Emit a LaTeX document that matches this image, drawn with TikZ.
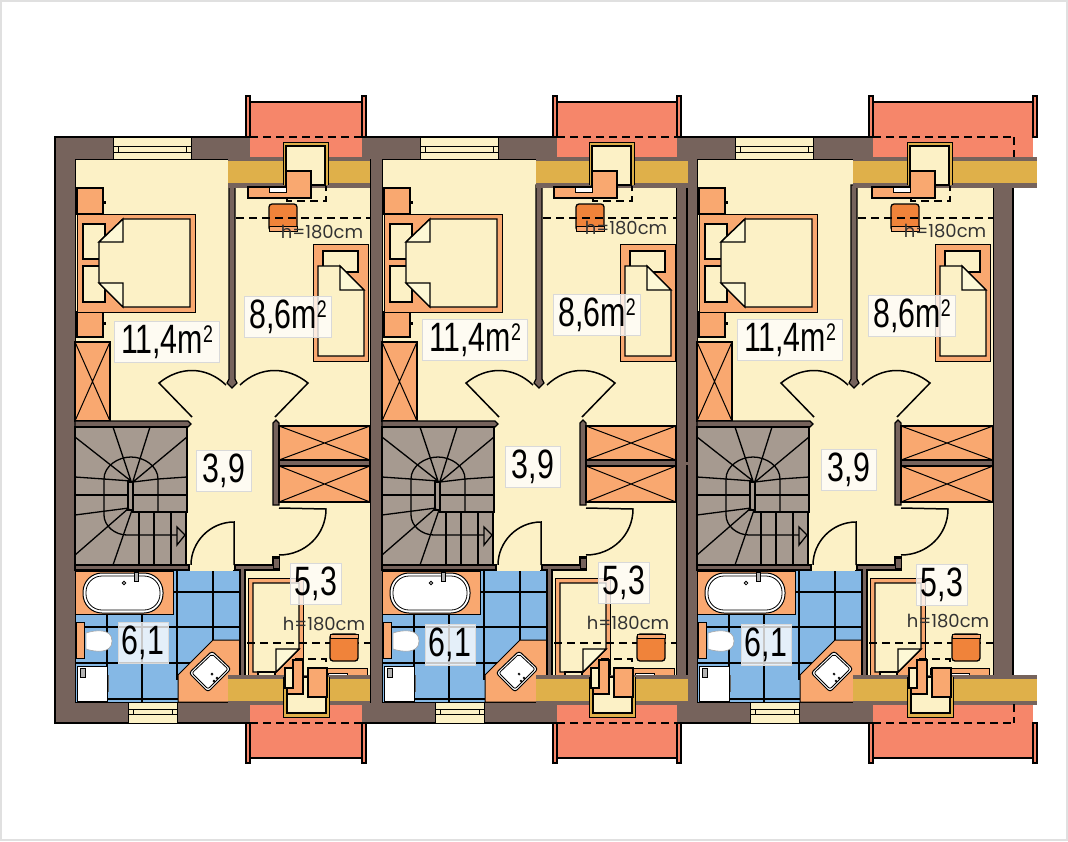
\documentclass[tikz,border=0pt]{standalone}
\usepackage{fontspec}
\usepackage{xcolor}
\usetikzlibrary{positioning}
\newfontfamily\areafont[FakeStretch=0.74]{Liberation Sans}
\newfontfamily\heightfont{Poppins}
\definecolor{creamc}{HTML}{FCF1C6}
\definecolor{foldc}{HTML}{FDF8D6}
\definecolor{orangec}{HTML}{F9A870}
\definecolor{salmonc}{HTML}{F6866A}
\definecolor{brownc}{HTML}{76635C}
\definecolor{goldc}{HTML}{DFB04A}
\definecolor{bluec}{HTML}{85B8E5}
\definecolor{stairc}{HTML}{A69A90}
\definecolor{stovec}{HTML}{F0833A}
\tikzstyle{room} = [fill=creamc, draw=black, line width=0.6pt]
\tikzstyle{wall} = [fill=brownc, draw=black, line width=1.2pt]
\tikzstyle{bare} = [fill=brownc]
\tikzstyle{fixture} = [fill=orangec, draw=black, line width=1.4pt]
\tikzstyle{mattress} = [fill=creamc, draw=black, line width=1.4pt]
\tikzstyle{fold} = [fill=foldc, draw=black, line width=1.4pt]
\tikzstyle{whiteware} = [fill=white, draw=black, line width=1pt]
\tikzstyle{thin} = [draw=black, line width=1.1pt]
\tikzstyle{stove} = [fill=stovec, draw=black, line width=1.3pt]
\tikzstyle{stairline} = [draw=black, line width=1.3pt]
\tikzstyle{hidden} = [draw=black, line width=1.2pt, dash pattern=on 8pt off 5pt]
\tikzstyle{swing} = [draw=black, line width=1.5pt]
\tikzstyle{arealabel} = [fill=white, fill opacity=0.78, text opacity=1, draw=black!15, line width=0.8pt, minimum height=41pt, inner sep=0pt, font=\areafont\fontsize{41}{41}\selectfont]
\tikzstyle{heightlabel} = [inner sep=0pt, text=black!80, font=\heightfont\fontsize{18}{18}\selectfont]

\newcommand{\balconyplan}[2]{
        \fill [salmonc] (#1,102) rectangle (#2,160);
        \fill [salmonc] (#1,704) rectangle (#2,758);
        \draw [thin, line width=1.6pt] (#1,102) -- (#2,102);
        \draw [thin, line width=1.6pt] (#1,758) -- (#2,758);
        \draw [fixture, fill=salmonc, line width=1.1pt] (#1-4,96) rectangle (#1,137);
        \draw [fixture, fill=salmonc, line width=1.1pt] (#2,96) rectangle (#2+4,137);
        \draw [fixture, fill=salmonc, line width=1.1pt] (#1-4,723) rectangle (#1,763);
        \draw [fixture, fill=salmonc, line width=1.1pt] (#2,723) rectangle (#2+4,763);
}

\newcommand{\unitplan}[2]{
    \begin{scope}[xshift=#1pt]
        % bedrooms, hall and attic room
        \draw [room] (75,159) rectangle (#2,702);
        \draw [fill=creamc, line width=0.8pt] (113,137) rectangle (191,159);
        \draw [line width=0.8pt] (113,146) -- (191,146) (113,152) -- (191,152) (118,146) -- (118,152) (186,146) -- (186,152);
        \draw [fill=creamc, line width=0.8pt] (128,702) rectangle (177,723);
        \draw [line width=0.8pt] (128,709) -- (177,709) (128,714) -- (177,714) (133,709) -- (133,714) (172,709) -- (172,714);
        % double bed
        \draw [fixture] (77,188) rectangle (103,214);
        \draw [fixture] (77,312) rectangle (103,337);
        \draw [fixture, line width=1pt] (77,214) rectangle (195,312);
        \draw [mattress] (83,224) rectangle (105,259);
        \draw [mattress] (83,266) rectangle (105,302);
        \draw [mattress] (123,219) -- (190,219) -- (190,307) -- (123,307) -- (99,283) -- (99,242) -- cycle;
        \draw [fold] (123,219) -- (99,242) -- (123,242) -- cycle;
        \draw [fold] (123,307) -- (99,283) -- (123,283) -- cycle;
        \draw [line width=1.2pt] (105,201) -- (105,204) (105,322) -- (105,325);
        % single bed
        \draw [fixture, line width=1pt] (313,244) rectangle (368,361);
        \draw [mattress] (323,251) rectangle (358,272);
        \draw [mattress] (318,266) -- (340,266) -- (364,290) -- (364,356) -- (318,356) -- cycle;
        \draw [fold] (340,266) -- (364,290) -- (340,290) -- cycle;
        \draw [fixture] (75,342) rectangle (110,421);
        \draw [line width=1pt] (75,342) -- (110,421) (110,342) -- (75,421);
        % partition walls
        \draw [wall] (229,185) -- (235,185) -- (235,379) -- (237,383) -- (232,388) -- (227,383) -- (229,379) -- cycle;
        \draw [wall] (75,421) -- (188,421) -- (191,424) -- (188,427) -- (75,427) -- cycle;
        \draw [wall] (273,423) -- (276,420) -- (279,423) -- (279,505) -- (273,505) -- cycle;
        \draw [fixture] (279,426) rectangle (#2,460);
        \draw [line width=1pt] (279,426) -- (#2,460) (279,460) -- (#2,426);
        \draw [fixture] (279,466) rectangle (#2,502);
        \draw [line width=1pt] (279,466) -- (#2,502) (279,502) -- (#2,466);
        \draw [wall] (279,460) rectangle (#2,466);
        % stairs
        \draw [fill=stairc, draw=black, line width=1.4pt] (75,427) -- (187,427) -- (187,512) -- (186,512) -- (186,565) -- (75,565) -- cycle;
        \draw [stairline] (131,481) -- (75,437) (131,481) -- (113,427) (133,481) -- (150,427) (133,482) -- (187,437);
        \draw [stairline] (131,481) -- (104,479) -- (75,477) (133,482) -- (158,479) -- (187,477);
        \draw [stairline] (75,495) -- (128,495) (133,495) -- (187,495);
        \draw [stairline, fill=stairc] (128,482) rectangle (133,510);
        \draw [stairline] (104,515) -- (104,479) .. controls (104,466) and (118,457) .. (131,457) .. controls (144,457) and (158,466) .. (158,479) -- (158,512);
        \draw [stairline] (104,515) .. controls (104,526) and (115,535) .. (127,535) -- (185,535);
        \draw [stairline] (132,512) -- (187,512);
        \draw [stairline] (129,508) -- (75,515) (129,508) -- (75,555) (132,510) -- (113,565);
        \draw [stairline] (139,512) -- (139,565) (154,512) -- (154,565) (171,512) -- (171,565);
        \draw [stairline, fill=stairc] (177,527) -- (185,535) -- (177,545) -- cycle;
        \draw [wall] (75,565) rectangle (189,570);
        % doors
        \draw [swing] (192,417) -- (159,383) .. controls (180,366) and (206,366) .. (226,385);
        \draw [swing] (275,417) -- (308,383) .. controls (287,366) and (260,366) .. (240,385);
        \draw [swing] (279,508) -- (326,509) .. controls (326,535) and (305,555) .. (279,555);
        \draw [swing] (234,565) -- (234,522) .. controls (210,522) and (191,542) .. (191,565);
        % bath
        \draw [fill=bluec, draw=black, line width=0.8pt] (75,570) rectangle (241,702);
        \draw [thin] (173,570) -- (173,614) (177,570) -- (177,680) (213,570) -- (213,640) (107,614) -- (107,702) (142,614) -- (142,702);
        \draw [thin] (173,592) -- (241,592) (75,627) -- (241,627) (75,663) -- (190,663) (107,699) -- (178,699);
        \draw [fixture, line width=1pt] (75,571) rectangle (173,614);
        \draw [whiteware, rounded corners=19pt] (83,573) rectangle (163,613);
        \draw [whiteware, rounded corners=16pt, line width=0.8pt] (86,576) rectangle (160,610);
        \draw [fill=black!30, line width=0.6pt] (134,572) rectangle (138,581);
        \draw [line width=0.8pt] (124,583) circle (1.8);
        \draw [fixture, line width=1pt] (76,622) rectangle (84,658);
        \draw [whiteware, draw=black!35, line width=0.6pt] (86,633) .. controls (95,630) and (112,628) .. (112,641) .. controls (112,654) and (95,652) .. (86,649) -- cycle;
        \draw [whiteware] (77,666) rectangle (107,701);
        \draw [fill=black!30, line width=0.6pt] (80,668) rectangle (85,677);
        \draw [line width=1pt, draw=black!60] (108,675) -- (108,692);
        \draw [fixture, line width=1pt] (178,675) -- (213,640) -- (240,640) -- (240,702) -- (178,702) -- cycle;
        \draw [whiteware, rounded corners=3pt] (212,651) -- (231,669) -- (208,692) -- (189,673) -- cycle;
        \draw [line width=0.8pt, rounded corners=2pt] (212,654) -- (228,669) -- (208,689) -- (192,673) -- cycle;
        \draw [line width=0.7pt] (212,674) circle (1) (217,678) circle (1) (214,681) circle (1);
        % walls round the attic room
        \draw [wall] (235,565) -- (279,565) -- (279,557) -- (273,557) -- (273,565) (235,565) -- (235,570) -- (240,570) -- (240,677) -- (245,677) -- (245,570) -- (279,570) -- (279,565);
        \draw [bare] (273,558) rectangle (279,568);
        \draw [fill=creamc, line width=0.8pt, draw=none] (190,565) rectangle (233,571);
        % low bed and low chest
        \draw [fixture, line width=1pt] (248,578) rectangle (303,677);
        \draw [mattress] (253,583) -- (299,583) -- (299,649) -- (276,672) -- (253,672) -- cycle;
        \draw [fold] (299,649) -- (276,672) -- (276,649) -- cycle;
        \draw [mattress] (258,672) rectangle (275,677);
        \draw [fixture, line width=1pt] (308,668) rectangle (367,677);
        \draw [whiteware, line width=0.6pt] (328,673) rectangle (347,677);
        \draw [hidden] (247,643) -- (#2,643);
        \draw [stove, rounded corners=3pt] (330,634) -- (358,634) -- (358,661) -- (330,661) -- cycle;
        \draw [fill=orangec, line width=0.8pt] (330,634) rectangle (358,638);
        \draw [stove, rounded corners=3pt] (269,231) -- (269,204) -- (297,204) -- (297,231) -- cycle;
        \draw [fill=orangec, line width=0.8pt] (269,226) rectangle (297,231);
        \draw [hidden] (236,218) -- (#2,218);
    \end{scope}
}

\newcommand{\dormerplan}[2]{
    \begin{scope}[xshift=#1pt+#2pt]
        % dormer on the upper side
        \draw [fixture, line width=0.9pt, fill=goldc] (283,185) -- (283,142) -- (328,142) -- (328,185);
        \draw [fill=creamc, line width=1.2pt] (286,185) -- (286,146) -- (325,146) -- (325,185) -- cycle;
        \draw [fixture, line width=1.1pt] (286,171) -- (311,171) -- (311,198) -- (248,198) -- (248,187) -- (286,187) -- cycle;
        \draw [whiteware, line width=0.6pt] (269,187) rectangle (286,192);
        \draw [hidden] (287,198) -- (287,201) -- (326,201) -- (326,186);
        % dormer on the lower side
        \draw [fixture, line width=0.9pt, fill=goldc] (283,677) -- (283,717) -- (329,717) -- (329,677);
        \draw [fill=creamc, line width=1.2pt] (287,677) -- (287,713) -- (326,713) -- (326,677) -- cycle;
        \draw [fixture, line width=1.1pt] (293,660) -- (303,660) -- (303,694) -- (287,694) -- (287,688) -- (293,688) -- cycle;
        \draw [mattress, line width=1.1pt] (285,668) rectangle (293,688);
        \draw [fixture, line width=1.1pt] (308,668) rectangle (327,697);
        \draw [hidden] (295,659) -- (326,659) -- (326,668);
    \end{scope}
}

\newcommand{\goldplan}[2]{
        \fill [brownc] (#1,157) rectangle (#2,188);
        \fill [goldc] (#1,161) rectangle (#2,183);
        \fill [brownc] (#1,675) rectangle (#2,705);
        \fill [goldc] (#1,679) rectangle (#2,701);
}

\begin{document}
\begin{tikzpicture}[x=1pt,y=-1pt]
        \useasboundingbox (0,0) rectangle (1068,841);
        \draw [black!12, line width=2pt] (1,1) rectangle (1067,840);

        \fill [brownc] (55,137) rectangle (1013,723);
        \balconyplan{250}{362}
        \balconyplan{557}{677}
        \balconyplan{873}{1033}
        \draw [line width=1.6pt] (362,137) -- (553,137) (681,137) -- (869,137) (250,137) -- (55,137) -- (55,723) -- (250,723) (362,723) -- (553,723) (681,723) -- (869,723);
        \draw [line width=1.4pt] (1013,186) -- (1013,677);
        \foreach \ox/\rx in {0/370, 307/369, 622/371}
            \unitplan{\ox}{\rx}
        \draw [line width=1.6pt] (687,180) -- (687,462) (687,465) -- (687,677);
        \draw [line width=1pt] (676,180) -- (687,180);

        \goldplan{228}{370}
        \goldplan{536}{688}
        \goldplan{853}{1037}

        \dormerplan{0}{0}
        \dormerplan{307}{-1}
        \dormerplan{622}{2}
        \foreach \a/\b in {250/362, 557/677, 873/1014}
            \draw [hidden] (\a,137) -- (\b,137) (\a,723) -- (\b,723);
        \draw [hidden] (1014,137) -- (1014,157) (1014,704) -- (1014,723);

        \node (bedroomA) [arealabel, minimum width=105pt] at (167,342) {11,4m\raisebox{11pt}{\fontsize{24}{24}\selectfont 2}};
        \node (atticA) [arealabel, minimum width=87pt] at (288,317) {8,6m\raisebox{11pt}{\fontsize{24}{24}\selectfont 2}};
        \node (hallA) [arealabel, minimum width=55pt] at (224,471) {3,9};
        \node (studyA) [arealabel, minimum width=51pt] at (316,584) {5,3};
        \node (bathA) [arealabel, minimum width=50pt] at (143,643) {6,1};
        \node (capA) [heightlabel] at (322,232) {h=180cm};
        \node (capAlow) [heightlabel] at (324,624) {h=180cm};

        \node (bedroomB) [arealabel, minimum width=105pt] at (475,340) {11,4m\raisebox{11pt}{\fontsize{24}{24}\selectfont 2}};
        \node (atticB) [arealabel, minimum width=87pt] at (597,315) {8,6m\raisebox{11pt}{\fontsize{24}{24}\selectfont 2}};
        \node (hallB) [arealabel, minimum width=55pt] at (533,467) {3,9};
        \node (studyB) [arealabel, minimum width=51pt] at (624,583) {5,3};
        \node (bathB) [arealabel, minimum width=50pt] at (450,645) {6,1};
        \node (capB) [heightlabel] at (626,228) {h=180cm};
        \node (capBlow) [heightlabel] at (628,623) {h=180cm};

        \node (bedroomC) [arealabel, minimum width=105pt] at (790,340) {11,4m\raisebox{11pt}{\fontsize{24}{24}\selectfont 2}};
        \node (atticC) [arealabel, minimum width=87pt] at (912,316) {8,6m\raisebox{11pt}{\fontsize{24}{24}\selectfont 2}};
        \node (hallC) [arealabel, minimum width=55pt] at (849,470) {3,9};
        \node (studyC) [arealabel, minimum width=51pt] at (942,585) {5,3};
        \node (bathC) [arealabel, minimum width=50pt] at (766,645) {6,1};
        \node (capC) [heightlabel] at (945,231) {h=180cm};
        \node (capClow) [heightlabel] at (948,621) {h=180cm};
    \end{tikzpicture}
\end{document}
